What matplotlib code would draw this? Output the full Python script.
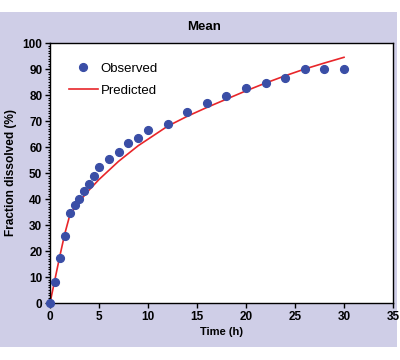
import matplotlib
matplotlib.use('Agg')
import matplotlib.pyplot as plt
from matplotlib.patches import Rectangle
from matplotlib.ticker import MultipleLocator

plt.rcParams['font.family'] = ['Liberation Sans', 'DejaVu Sans']

# observed mean dissolution
timeObs = [0, 0.5, 1, 1.5, 2, 2.5, 3, 3.5, 4, 4.5, 5, 6, 7, 8, 9, 10,
           12, 14, 16, 18, 20, 22, 24, 26, 28, 30]
fracObs = [0, 8.2, 17.2, 25.6, 34.6, 37.6, 40.1, 43.1, 45.6, 48.7, 52.3,
           55.5, 58.0, 61.4, 63.6, 66.4, 69.0, 73.5, 76.8, 79.7, 82.7,
           84.6, 86.5, 89.9, 90.0, 90.0]

# model prediction
timePred = [0, 0.5, 1, 1.5, 2, 2.5, 3, 3.5, 4, 4.5, 5, 6, 7, 8, 9, 10,
            12, 14, 16, 18, 20, 22, 24, 26, 28, 30]
fracPred = [0, 9.0, 18.0, 26.5, 33.5, 36.5, 39.0, 41.3, 43.5, 45.5, 47.5,
            51.0, 54.5, 57.5, 60.5, 63.0, 68.0, 71.8, 75.2, 78.4, 81.6,
            84.6, 87.4, 90.0, 92.3, 94.5]

fig = plt.figure(figsize=(4, 3.6), dpi=100)
fig.patch.set_facecolor('white')
bg = Rectangle((0, 13/360), 397/400, 335/360, transform=fig.transFigure,
               facecolor='#cfcee7', edgecolor='none', zorder=-10)
fig.patches.append(bg)

ax = fig.add_axes([50/400, 57/360, 343/400, 260/360])
ax.set_facecolor('white')

ax.plot(timeObs, fracObs, 'o', color='#3a4ea6', markersize=5.6,
        label='Observed', clip_on=False, zorder=3)
ax.plot(timePred, fracPred, '-', color='#e8262a', linewidth=1.2,
        label='Predicted', zorder=2)

ax.set_xlim(0, 35)
ax.set_ylim(0, 100)
ax.xaxis.set_major_locator(MultipleLocator(5))
ax.yaxis.set_major_locator(MultipleLocator(10))
ax.yaxis.set_minor_locator(MultipleLocator(1))
ax.tick_params(axis='both', which='major', direction='out', length=3.5,
               width=1, labelsize=8.5, pad=2)
ax.tick_params(axis='y', which='minor', direction='out', length=1.8, width=0.8)
for lab in ax.get_xticklabels() + ax.get_yticklabels():
    lab.set_fontweight('bold')
for s in ax.spines.values():
    s.set_linewidth(1)

ax.set_xlabel('Time (h)', fontsize=8, fontweight='bold', labelpad=3)
ax.set_ylabel('Fraction dissolved (%)', fontsize=8.6, fontweight='bold', labelpad=4)
fig.text(0.51, 0.925, 'Mean', ha='center', va='center', fontsize=9.5,
         fontweight='bold')

ax.legend(loc='upper left', frameon=False, fontsize=9.5,
          bbox_to_anchor=(0.02, 0.97), handlelength=2.2, handletextpad=0.2,
          labelspacing=0.75)

fig.savefig('out.png', dpi=100, facecolor='white')
